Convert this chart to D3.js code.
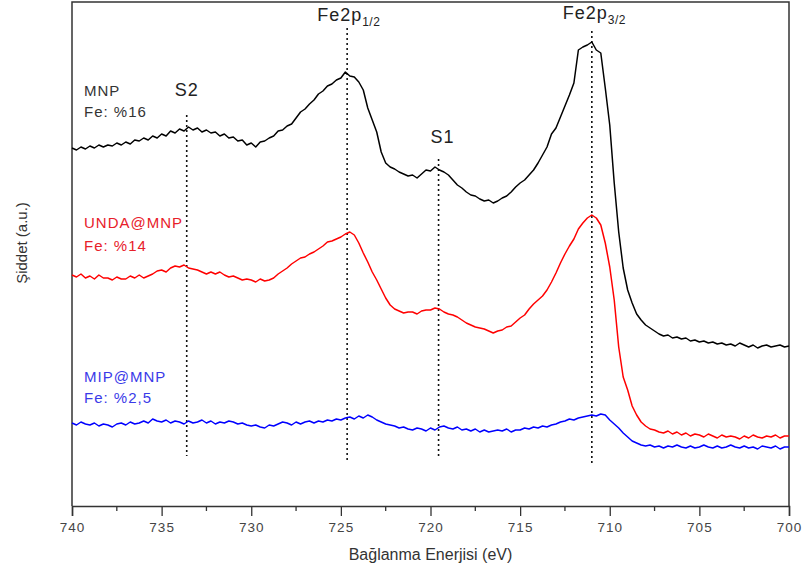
<!DOCTYPE html>
<html>
<head>
<meta charset="utf-8">
<script src="https://cdn.jsdelivr.net/npm/d3@7"></script>
<style>
  body { margin: 0; background: #fff; }
  text { font-family: "Liberation Sans", Arial, sans-serif; }
</style>
</head>
<body>
<svg id="chart" width="807" height="579"></svg>
<script>
// binding energy grid, 740 -> 700 eV in 0.25 eV steps
var energies = d3.range(740, 699.875, -0.25);

// intensities (a.u.), one row per eV: E, E-0.25, E-0.5, E-0.75
var mnp = [
  357, 355, 358, 356,  359, 357, 360, 358,  360, 359, 362, 360,  363, 361, 365, 364,
  367, 365, 369, 367,  371, 369, 374, 372,  376, 374, 378, 375,  377, 373, 375, 372,
  373, 369, 371, 367,  368, 364, 365, 360,  362, 358, 363, 364,  367, 369, 374, 375,
  379, 381, 387, 393,  396, 401, 405, 411,  414, 419, 421, 425,  427, 433, 429, 428,
  423, 415, 397, 385,  373, 353, 342, 338,  336, 333, 331, 329,  330, 327, 331, 335,
  334, 338, 335, 333,  330, 325, 320, 317,  313, 310, 309, 306,  304, 305, 302, 304,
  307, 309, 313, 318,  322, 325, 330, 335,  342, 350, 358, 371,  377, 388, 399, 410,
  422, 455, 458, 460,  463, 455, 452, 417,  380, 322, 273, 237,  215, 202, 191, 185,
  180, 177, 174, 171,  169, 170, 167, 168,  166, 167, 164, 165,  163, 164, 162, 163,
  161, 162, 160, 161,  159, 162, 160, 158,  160, 157, 159, 160,  158, 159, 160, 158,
  159
];
var unda = [
  230, 228, 231, 227,  229, 226, 230, 227,  227, 225, 228, 226,  226, 229, 227, 230,
  227, 229, 231, 234,  235, 233, 237, 239,  238, 240, 237, 236,  235, 233, 231, 233,
  231, 233, 230, 228,  229, 227, 225, 226,  225, 223, 226, 224,  225, 227, 231, 234,
  237, 241, 244, 247,  248, 251, 253, 256,  259, 263, 264, 266,  268, 271, 273, 270,
  262, 252, 243, 233,  225, 216, 207, 200,  196, 194, 192, 193,  193, 191, 194, 195,
  195, 197, 196, 193,  191, 190, 188, 185,  182, 180, 178, 177,  176, 174, 172, 174,
  175, 178, 179, 183,  187, 190, 196, 201,  205, 209, 215, 223,  232, 242, 251, 259,
  266, 276, 282, 287,  290, 287, 280, 262,  238, 205, 158, 128,  115,  99,  90,  83,
   79,  76,  75,  73,   72,  74,  71,  73,   70,  72,  69,  71,   70,  68,  71,  69,
   67,  70,  68,  69,   68,  66,  69,  67,   70,  68,  67,  69,   68,  70,  67,  69,
   69
];
var mip = [
   82,  80,  83,  81,   80,  82,  79,  81,   80,  78,  81,  82,   80,  83,  81,  82,
   84,  82,  86,  84,   83,  85,  82,  84,   83,  81,  84,  82,   83,  85,  82,  84,
   81,  83,  82,  84,   83,  81,  82,  80,   79,  80,  78,  77,   80,  79,  81,  83,
   82,  80,  83,  81,   83,  84,  82,  84,   83,  85,  84,  86,   85,  87,  88,  86,
   89,  87,  90,  88,   85,  83,  81,  80,   79,  77,  78,  76,   75,  77,  76,  74,
   77,  75,  78,  79,   77,  76,  78,  75,   76,  74,  76,  73,   75,  73,  74,  75,
   74,  76,  73,  75,   75,  77,  76,  78,   77,  79,  78,  80,   81,  83,  84,  86,
   85,  87,  88,  89,   90,  89,  91,  90,   85,  81,  77,  72,   68,  64,  62,  60,
   59,  60,  58,  59,   57,  59,  58,  60,   58,  57,  59,  57,   58,  60,  58,  57,
   59,  57,  58,  60,   58,  57,  59,  57,   58,  56,  59,  58,   57,  59,  56,  58,
   58
];

var seriesNames = ["MNP", "UNDA@MNP", "MIP@MNP"];
var feContent = ["Fe: %16", "Fe: %14", "Fe: %2,5"];

// peak markers (dotted lines)
var peakEnergy = [733.6, 724.65, 719.55, 711.0];
var peakTop = [390, 477, 346, 474];
var peakBottom = [49, 43, 46, 39];
var peakLabel = ["S2", "Fe2p", "S1", "Fe2p"];
var peakSub = ["", "1/2", "", "3/2"];

var xTicks = [740, 735, 730, 725, 720, 715, 710, 705, 700];
var xMinor = [737.5, 732.5, 727.5, 722.5, 717.5, 712.5, 707.5, 702.5];

var svg = d3.select("#chart");
var mLeft = 72, mRight = 789, mTop = 2, mBottom = 506;

var x = d3.scaleLinear().domain([740, 700]).range([mLeft, mRight]);
var y = d3.scaleLinear().domain([0, 503]).range([505, mTop]);

// frame
svg.append("path")
  .attr("d", "M" + mLeft + "," + mBottom + "V" + mTop + "H" + mRight + "V" + mBottom)
  .attr("fill", "none")
  .attr("stroke", "#333")
  .attr("stroke-width", 1.5);

// x axis
var axisG = svg.append("g")
  .attr("transform", "translate(0," + mBottom + ")")
  .call(d3.axisBottom(x).tickValues(xTicks).tickSize(10).tickPadding(6).tickFormat(d3.format("d")));
axisG.select(".domain").attr("stroke", "#333").attr("stroke-width", 1.5);
axisG.selectAll(".tick line").attr("stroke", "#333").attr("stroke-width", 1.3);
axisG.selectAll(".tick text")
  .attr("fill", "#444")
  .style("font-size", "13.5px")
  .style("letter-spacing", "1px");

axisG.selectAll(".minor").data(xMinor).enter().append("line")
  .attr("class", "minor")
  .attr("x1", function(d) { return x(d); })
  .attr("x2", function(d) { return x(d); })
  .attr("y1", 0).attr("y2", 5)
  .attr("stroke", "#333").attr("stroke-width", 1.3);

svg.append("text")
  .attr("x", (mLeft + mRight) / 2)
  .attr("y", 560)
  .attr("text-anchor", "middle")
  .attr("fill", "#333")
  .style("font-size", "16px")
  .text("Bağlanma Enerjisi (eV)");

svg.append("text")
  .attr("transform", "translate(27,243)rotate(-90)")
  .attr("text-anchor", "middle")
  .attr("fill", "#333")
  .style("font-size", "15px")
  .text("Şiddet (a.u.)");

// dotted peak lines
svg.selectAll(".peak").data(peakEnergy).enter().append("line")
  .attr("class", "peak")
  .attr("x1", function(d) { return x(d); })
  .attr("x2", function(d) { return x(d); })
  .attr("y1", function(d, i) { return y(peakTop[i]); })
  .attr("y2", function(d, i) { return y(peakBottom[i]); })
  .attr("stroke", "#111")
  .attr("stroke-width", 1.6)
  .attr("stroke-dasharray", "2,3");

// spectra
var line = d3.line()
  .x(function(d, i) { return x(energies[i]); })
  .y(function(d) { return y(d); });

var colors = ["#000000", "#ff0000", "#0000ff"];
[mnp, unda, mip].forEach(function(s, k) {
  svg.append("path")
    .datum(s)
    .attr("d", line)
    .attr("fill", "none")
    .attr("stroke", colors[k])
    .attr("stroke-width", 1.5)
    .attr("stroke-linejoin", "round");
});

// peak labels
var labelDy = [-19, -7, -16, -12];
var labelDx = [0, -30, 4, -29];
peakLabel.forEach(function(t, i) {
  var tx = svg.append("text")
    .attr("x", x(peakEnergy[i]) + labelDx[i])
    .attr("y", y(peakTop[i]) + labelDy[i])
    .attr("text-anchor", peakSub[i] ? "start" : "middle")
    .attr("fill", "#222")
    .style("font-size", "18px")
    .style("letter-spacing", "1px");
  tx.append("tspan").text(t);
  if (peakSub[i]) {
    tx.append("tspan")
      .attr("dy", 5)
      .style("font-size", "12px")
      .style("letter-spacing", "0.5px")
      .text(peakSub[i]);
  }
});

// sample labels
var legendY = [[96, 117], [228, 251], [382, 403]];
var legendColors = ["#333", "#e8202a", "#3a3ae8"];
seriesNames.forEach(function(n, k) {
  [n, feContent[k]].forEach(function(t, j) {
    svg.append("text")
      .attr("x", 84)
      .attr("y", legendY[k][j])
      .attr("fill", legendColors[k])
      .style("font-size", "15px")
      .style("letter-spacing", "1px")
      .text(t);
  });
});
</script>
</body>
</html>
